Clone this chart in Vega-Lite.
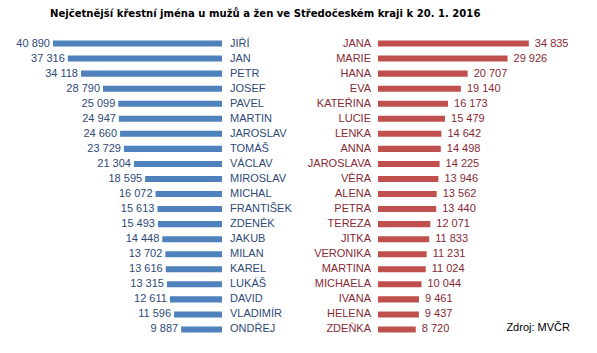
{
  "$schema": "https://vega.github.io/schema/vega-lite/v6.json",
  "padding": {"left": 0, "top": 7, "right": 0, "bottom": 0},
  "background": "white",
  "bounds": "flush",
  "title": {
    "text": "Nejčetnější křestní  jména u mužů a žen ve  Středočeském  kraji k 20. 1. 2016",
    "anchor": "start",
    "dx": 50,
    "fontSize": 11.2,
    "font": "DejaVu Sans Condensed",
    "fontWeight": "bold",
    "color": "#000000",
    "offset": 17
  },
  "config": {"view": {"stroke": null}, "concat": {"spacing": 156}},
  "hconcat": [
    {
      "width": 222,
      "height": 301,
      "data": {"values": [
        {"rank": 1, "name": "JIŘÍ", "count": 40890, "label": "40 890"},
        {"rank": 2, "name": "JAN", "count": 37316, "label": "37 316"},
        {"rank": 3, "name": "PETR", "count": 34118, "label": "34 118"},
        {"rank": 4, "name": "JOSEF", "count": 28790, "label": "28 790"},
        {"rank": 5, "name": "PAVEL", "count": 25099, "label": "25 099"},
        {"rank": 6, "name": "MARTIN", "count": 24947, "label": "24 947"},
        {"rank": 7, "name": "JAROSLAV", "count": 24660, "label": "24 660"},
        {"rank": 8, "name": "TOMÁŠ", "count": 23729, "label": "23 729"},
        {"rank": 9, "name": "VÁCLAV", "count": 21304, "label": "21 304"},
        {"rank": 10, "name": "MIROSLAV", "count": 18595, "label": "18 595"},
        {"rank": 11, "name": "MICHAL", "count": 16072, "label": "16 072"},
        {"rank": 12, "name": "FRANTIŠEK", "count": 15613, "label": "15 613"},
        {"rank": 13, "name": "ZDENĚK", "count": 15493, "label": "15 493"},
        {"rank": 14, "name": "JAKUB", "count": 14448, "label": "14 448"},
        {"rank": 15, "name": "MILAN", "count": 13702, "label": "13 702"},
        {"rank": 16, "name": "KAREL", "count": 13616, "label": "13 616"},
        {"rank": 17, "name": "LUKÁŠ", "count": 13315, "label": "13 315"},
        {"rank": 18, "name": "DAVID", "count": 12611, "label": "12 611"},
        {"rank": 19, "name": "VLADIMÍR", "count": 11596, "label": "11 596"},
        {"rank": 20, "name": "ONDŘEJ", "count": 9887, "label": "9 887"}
      ]},
      "encoding": {
        "y": {"field": "rank", "type": "ordinal", "axis": null,
              "scale": {"paddingInner": 0.6, "paddingOuter": 0.3}}
      },
      "layer": [
        {
          "mark": {"type": "bar", "color": "#4f81bd"},
          "encoding": {
            "x": {"field": "count", "type": "quantitative", "axis": null,
                  "scale": {"domain": [0, 53714], "reverse": true, "nice": false}}
          }
        },
        {
          "mark": {"type": "text", "align": "right", "dx": -3, "font": "Liberation Sans", "fontSize": 11, "color": "#2e4a78"},
          "encoding": {
            "x": {"field": "count", "type": "quantitative"},
            "text": {"field": "label"}
          }
        },
        {
          "mark": {"type": "text", "align": "left", "dx": 8, "font": "Liberation Sans", "fontSize": 11, "color": "#2e4a78"},
          "encoding": {
            "x": {"datum": 0, "type": "quantitative"},
            "text": {"field": "name"}
          }
        }
      ]
    },
    {
      "width": 219,
      "height": 301,
      "data": {"values": [
        {"rank": 1, "name": "JANA", "count": 34835, "label": "34 835"},
        {"rank": 2, "name": "MARIE", "count": 29926, "label": "29 926"},
        {"rank": 3, "name": "HANA", "count": 20707, "label": "20 707"},
        {"rank": 4, "name": "EVA", "count": 19140, "label": "19 140"},
        {"rank": 5, "name": "KATEŘINA", "count": 16173, "label": "16 173"},
        {"rank": 6, "name": "LUCIE", "count": 15479, "label": "15 479"},
        {"rank": 7, "name": "LENKA", "count": 14642, "label": "14 642"},
        {"rank": 8, "name": "ANNA", "count": 14498, "label": "14 498"},
        {"rank": 9, "name": "JAROSLAVA", "count": 14225, "label": "14 225"},
        {"rank": 10, "name": "VĚRA", "count": 13946, "label": "13 946"},
        {"rank": 11, "name": "ALENA", "count": 13562, "label": "13 562"},
        {"rank": 12, "name": "PETRA", "count": 13440, "label": "13 440"},
        {"rank": 13, "name": "TEREZA", "count": 12071, "label": "12 071"},
        {"rank": 14, "name": "JITKA", "count": 11833, "label": "11 833"},
        {"rank": 15, "name": "VERONIKA", "count": 11231, "label": "11 231"},
        {"rank": 16, "name": "MARTINA", "count": 11024, "label": "11 024"},
        {"rank": 17, "name": "MICHAELA", "count": 10044, "label": "10 044"},
        {"rank": 18, "name": "IVANA", "count": 9461, "label": "9 461"},
        {"rank": 19, "name": "HELENA", "count": 9437, "label": "9 437"},
        {"rank": 20, "name": "ZDEŇKA", "count": 8720, "label": "8 720"}
      ]},
      "encoding": {
        "y": {"field": "rank", "type": "ordinal", "axis": null,
              "scale": {"paddingInner": 0.6, "paddingOuter": 0.3}}
      },
      "layer": [
        {
          "mark": {"type": "bar", "color": "#c0504d"},
          "encoding": {
            "x": {"field": "count", "type": "quantitative", "axis": null,
                  "scale": {"domain": [0, 50577], "nice": false}}
          }
        },
        {
          "mark": {"type": "text", "align": "left", "dx": 6, "font": "Liberation Sans", "fontSize": 11, "color": "#862a34"},
          "encoding": {
            "x": {"field": "count", "type": "quantitative"},
            "text": {"field": "label"}
          }
        },
        {
          "mark": {"type": "text", "align": "right", "dx": -7, "font": "Liberation Sans", "fontSize": 11, "color": "#862a34"},
          "encoding": {
            "x": {"datum": 0, "type": "quantitative"},
            "text": {"field": "name"}
          }
        },
        {
          "data": {"values": [{"source": "Zdroj: MVČR"}]},
          "mark": {"type": "text", "align": "left", "dy": -1, "font": "Liberation Sans", "fontSize": 11, "color": "#000000"},
          "encoding": {
            "x": {"datum": 29650, "type": "quantitative"},
            "y": {"datum": 20, "type": "ordinal"},
            "text": {"field": "source"}
          }
        }
      ]
    }
  ]
}
